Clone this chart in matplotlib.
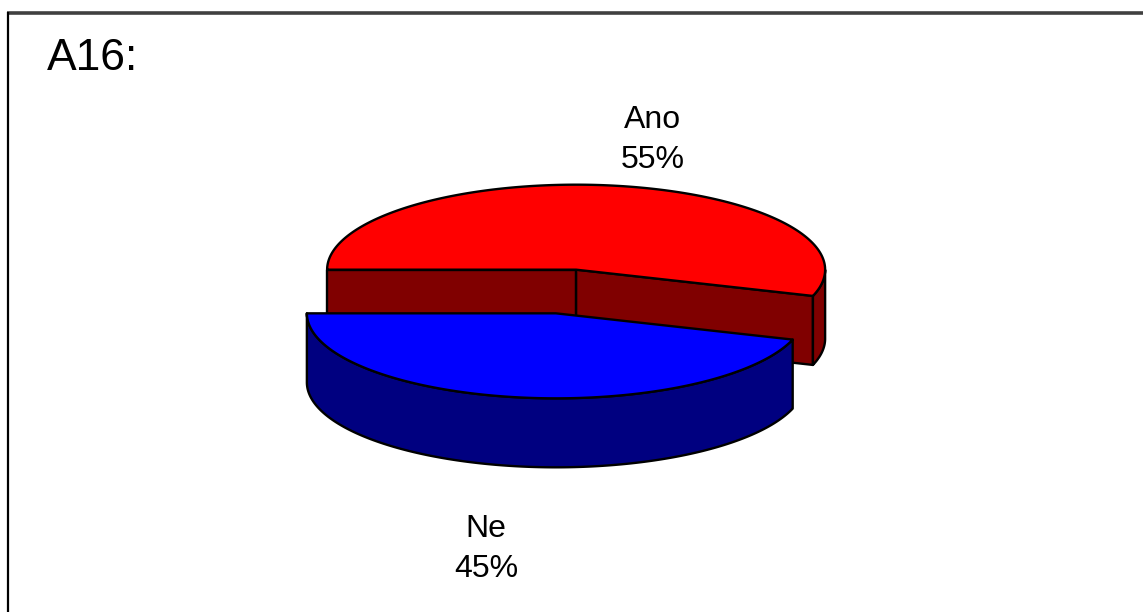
import numpy as np
import matplotlib.pyplot as plt
from matplotlib.patches import Polygon

plt.rcParams['font.family'] = ['Liberation Sans', 'DejaVu Sans']

# answers to question A16
labels = ['Ano', 'Ne']
shares = [55, 45]
top_colors = ['#FF0000', '#0000FF']
side_colors = ['#800000', '#000080']

# 3D pie geometry in pixel units (y grows downward)
cx, cy = 566, 291.5
rx, ry = 249, 85
depth = 69
explode = 0.26
start_angle = 180
label_pos = [(653, 140), (486, 549)]

fig = plt.figure(figsize=(11.43, 6.12), dpi=100)
ax = fig.add_axes([0, 0, 1, 1])
ax.set_xlim(0, 1143)
ax.set_ylim(612, 0)
ax.axis('off')

# frame around the chart area
ax.plot([7, 1143], [12.5, 12.5], color='#404040', lw=2.6, solid_capstyle='butt')
ax.plot([7.5, 7.5], [12, 612], color='black', lw=1.6, solid_capstyle='butt')

ax.text(47, 70, 'A16:', fontsize=32, ha='left', va='baseline')


def rim(x0, y0, t):
    return x0 + rx * np.cos(t), y0 - ry * np.sin(t)


slices = []
angle = np.deg2rad(start_angle)
total = sum(shares)
for i, v in enumerate(shares):
    t0 = angle
    t1 = angle - 2 * np.pi * v / total
    mid = (t0 + t1) / 2
    x0 = cx + explode * rx * np.cos(mid)
    y0 = cy - explode * ry * np.sin(mid)
    slices.append((i, t0, t1, mid, x0, y0))
    angle = t1

# back slices first
slices.sort(key=lambda s: -np.sin(s[3]))

edge = dict(edgecolor='black', lw=1.7, joinstyle='round')
for i, t0, t1, mid, x0, y0 in slices:
    side = side_colors[i]
    # radial cut faces that face the viewer
    for a, visible in [(t0, np.cos(t0) < 0), (t1, np.cos(t1) > 0)]:
        if visible:
            ex, ey = rim(x0, y0, a)
            quad = [(x0, y0), (ex, ey), (ex, ey + depth), (x0, y0 + depth)]
            ax.add_patch(Polygon(quad, closed=True, facecolor=side, **edge))
    # outer wall on the front half of the ellipse
    t = np.linspace(t1, t0, 400)
    front = np.sin(t) <= 0
    runs = np.split(np.arange(len(t)), np.where(np.diff(front.astype(int)) != 0)[0] + 1)
    for r in runs:
        if not front[r[0]] or len(r) < 2:
            continue
        xs, ys = rim(x0, y0, t[r])
        pts = list(zip(xs, ys)) + list(zip(xs[::-1], ys[::-1] + depth))
        ax.add_patch(Polygon(pts, closed=True, facecolor=side, **edge))
    # top face
    xs, ys = rim(x0, y0, np.linspace(t0, t1, 400))
    pts = [(x0, y0)] + list(zip(xs, ys))
    ax.add_patch(Polygon(pts, closed=True, facecolor=top_colors[i], **edge))

for (lx, ly), name, v in zip(label_pos, labels, shares):
    ax.text(lx, ly, f'{name}\n{v}%', fontsize=23, ha='center', va='center',
            linespacing=1.4)

fig.savefig('out.png', dpi=100)
